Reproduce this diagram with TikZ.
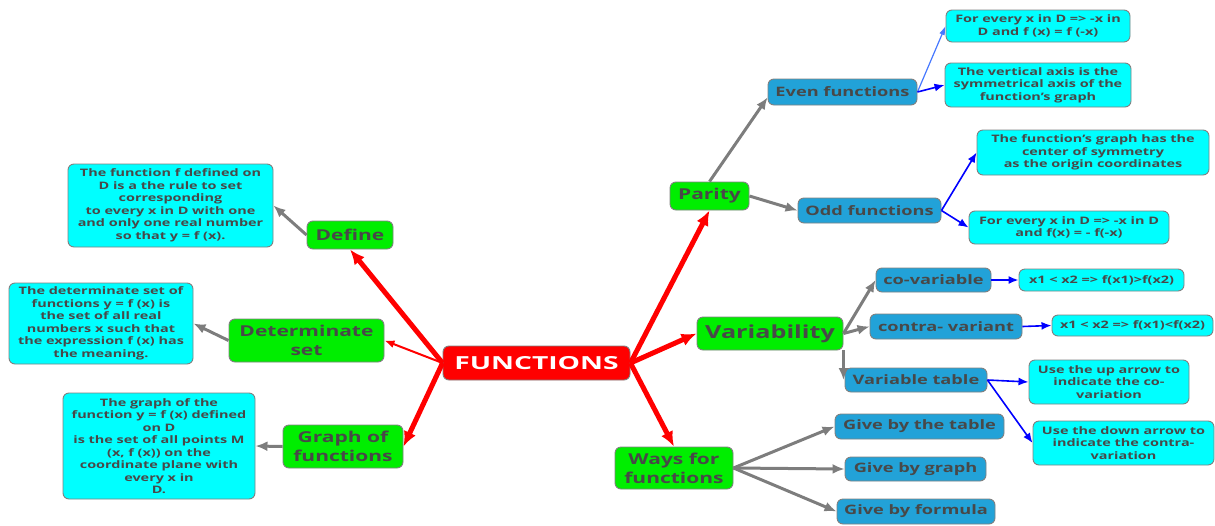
\documentclass[tikz,border=0pt]{standalone}
\usepackage{fontspec}
\usepackage{graphicx}
\setmainfont{Open Sans}[FakeStretch=1.4]
\usetikzlibrary{arrows.meta,calc}
\definecolor{gfill}{RGB}{0,238,0}
\definecolor{cfill}{RGB}{0,255,255}
\definecolor{bfill}{RGB}{34,162,216}
\definecolor{rfill}{RGB}{255,0,0}
\definecolor{txt}{RGB}{72,72,72}
\definecolor{bord}{RGB}{128,128,128}
\definecolor{garr}{RGB}{125,125,125}
\definecolor{blarr}{RGB}{0,0,255}
\definecolor{lblarr}{RGB}{70,120,255}
\begin{document}
\begin{tikzpicture}[x=1pt,y=-1pt,
  box/.style={draw=bord,line width=0.9pt,rounded corners=6pt,inner sep=0pt,align=center,text=txt},
  mainbox/.style={box,fill=rfill,text=white,font=\bfseries\fontsize{18}{20}\selectfont},
  greenbox/.style={box,fill=gfill,font=\bfseries\fontsize{15}{19}\selectfont},
  bluebox/.style={box,fill=bfill,font=\bfseries\fontsize{13}{15}\selectfont},
  cyanbox/.style={box,fill=cfill,font=\bfseries\fontsize{10.3}{12.5}\selectfont},
  redarr/.style={draw=rfill,line width=5pt,-{Latex[length=15pt,width=13pt]}},
  redthin/.style={draw=rfill,line width=2pt,-{Latex[length=10pt,width=8pt]}},
  grayarr/.style={draw=garr,line width=3pt,-{Latex[length=12pt,width=10pt]}},
  bluearr/.style={draw=blarr,line width=1.6pt,-{Latex[length=10pt,width=8pt]}},
  lbluearr/.style={draw=lblarr,line width=1.2pt,-{Latex[length=9pt,width=6pt]}}]
\useasboundingbox (0,0) rectangle (1215,525);

% central
\node[mainbox,minimum width=187pt,minimum height=34pt] (F) at (536.5,363) {\scalebox{1.12}[1]{FUNCTIONS}};

% left
\node[greenbox,minimum width=86pt,minimum height=28pt] (def) at (350,235) {Define};
\node[greenbox,minimum width=155pt,minimum height=43pt] (det) at (306.5,340.5) {Determinate\\set};
\node[greenbox,minimum width=120pt,minimum height=43pt] (graph) at (343,446.5) {Graph of\\functions};
\node[cyanbox,minimum width=205pt,minimum height=83pt] (defT) at (170.5,205.5) {The function f defined on\\D is a the rule to set\\corresponding\\to every x in D with one\\and only one real number\\so that y = f (x).};
\node[cyanbox,minimum width=184pt,minimum height=81pt] (detT) at (101,323.5) {The determinate set of\\functions y = f (x) is\\the set of all real\\numbers x such that\\the expression f (x) has\\the meaning.};
\node[cyanbox,minimum width=192pt,minimum height=106pt] (graphT) at (159,446) {The graph of the\\function y = f (x) defined\\on D\\is the set of all points M\\(x, f (x)) on the\\coordinate plane with\\every x in\\D.};

% parity
\node[greenbox,minimum width=79pt,minimum height=28pt] (par) at (709.5,196) {Parity};
\node[bluebox,minimum width=149pt,minimum height=26pt] (even) at (842.5,92) {Even functions};
\node[bluebox,minimum width=143pt,minimum height=25pt] (odd) at (869.5,210.5) {Odd functions};
\node[cyanbox,minimum width=184pt,minimum height=32pt] (e1) at (1038,26) {For every x in D => -x in\\D and f (x) = f (-x)};
\node[cyanbox,minimum width=186pt,minimum height=44pt] (e2) at (1038,85) {The vertical axis is the\\symmetrical axis of the\\function's graph};
\node[cyanbox,minimum width=232pt,minimum height=45pt] (o1) at (1093,152.5) {The function's graph has the\\center of symmetry\\as the origin coordinates};
\node[cyanbox,minimum width=200pt,minimum height=33pt] (o2) at (1069,227.5) {For every x in D => -x in D\\and f(x) = - f(-x)};

% variability
\node[greenbox,font=\bfseries\fontsize{18}{20}\selectfont,minimum width=146pt,minimum height=33pt] (var) at (770,333.5) {Variability};
\node[bluebox,minimum width=115pt,minimum height=24pt] (co) at (933.5,280) {co-variable};
\node[bluebox,minimum width=152pt,minimum height=25pt] (contra) at (946,326.5) {contra- variant};
\node[bluebox,minimum width=142pt,minimum height=24pt] (vt) at (916,380) {Variable table};
\node[cyanbox,minimum width=165pt,minimum height=22pt] (c1) at (1101.5,280) {x1 < x2 => f(x1)>f(x2)};
\node[cyanbox,minimum width=161pt,minimum height=21pt] (c2) at (1132.5,325.5) {x1 < x2 => f(x1)<f(x2)};
\node[cyanbox,minimum width=160pt,minimum height=44pt] (up) at (1109,382) {Use the up arrow to\\indicate the co-\\variation};
\node[cyanbox,minimum width=181pt,minimum height=44pt] (down) at (1123.5,443) {Use the down arrow to\\indicate the contra-\\variation};

% ways
\node[greenbox,minimum width=118pt,minimum height=42pt] (ways) at (674,468) {Ways for\\functions};
\node[bluebox,minimum width=169pt,minimum height=25pt] (gt) at (919.5,426.5) {Give by the table};
\node[bluebox,minimum width=141pt,minimum height=24pt] (gg) at (915.5,469) {Give by graph};
\node[bluebox,minimum width=158pt,minimum height=25pt] (gf) at (916,511.5) {Give by formula};

% red connectors
\draw[redarr] (F.west) -- (def.south);
\draw[redthin] (F.west) -- (det.east);
\draw[redarr] (F.west) -- (graph.east);
\draw[redarr] (F.east) -- (par.south);
\draw[redarr] (F.east) -- (var.west);
\draw[redarr] (F.east) -- (ways.north);

% gray connectors
\draw[grayarr] (def.west) -- (defT.east);
\draw[grayarr] (det.west) -- (detT.east);
\draw[grayarr] (graph.west) -- (graphT.east);
\draw[grayarr] (par.north) -- ($(even.west)!0.4!(even.south west)$);
\draw[grayarr] (par.east) -- (odd.west);
\draw[grayarr] (var.east) -- (co.west);
\draw[grayarr] (var.east) -- (contra.west);
\draw[grayarr] (var.south east) -- (var.south east |- vt.west);
\draw[grayarr] (ways.east) -- (gt.west);
\draw[grayarr] (ways.east) -- (gg.west);
\draw[grayarr] (ways.east) -- (gf.west);

% blue connectors
\draw[lbluearr] (even.east) -- (e1.west);
\draw[bluearr] (even.east) -- (e2.west);
\draw[bluearr] (odd.east) -- (o1.west);
\draw[bluearr] (odd.east) -- (o2.west);
\draw[bluearr] (co.east) -- (c1.west);
\draw[bluearr] (contra.east) -- (c2.west);
\draw[bluearr] (vt.east) -- (up.west);
\draw[bluearr] (vt.east) -- (down.west);
\end{tikzpicture}
\end{document}
